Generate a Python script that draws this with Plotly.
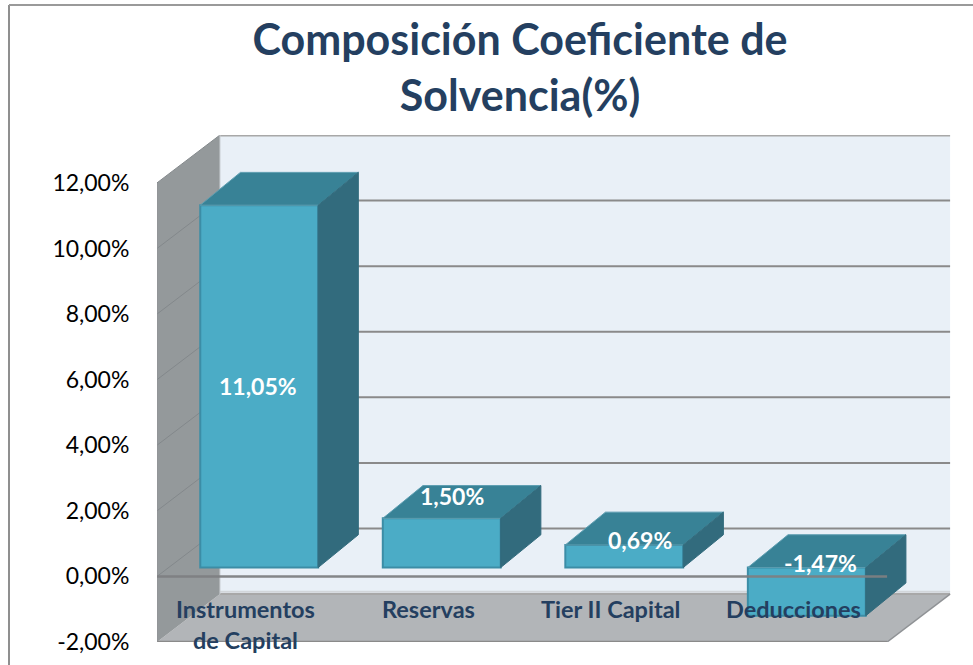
import plotly.graph_objects as go

categories = ["Instrumentos<br>de Capital", "Reservas", "Tier II Capital", "Deducciones"]
values = [11.05, 1.50, 0.69, -1.47]
value_labels = ["11,05%", "1,50%", "0,69%", "-1,47%"]
tick_values = [-2, 0, 2, 4, 6, 8, 10, 12]
tick_labels = ["-2,00%", "0,00%", "2,00%", "4,00%", "6,00%", "8,00%", "10,00%", "12,00%"]
title = "Composición Coeficiente de<br>Solvencia(%)"

FONT = "Lato"
NAVY = "#243F60"
X0, X1 = -0.5, 3.5
Y0, Y1 = -2, 12
DX, DY = 0.345, 1.46     # floor depth in axis units
BAR_W = 0.646
BAR_SX, BAR_SY = 0.06, 0.27    # bar front offset
BAR_DX, BAR_DY = 0.22, 1.0     # bar depth
# where each value label sits relative to its bar (manual placement, as in the original)
LABEL_NUDGE_X = [-0.005, 0.055, 0.088, 0.077]
LABEL_NUDGE_Y = [None, 0.67, 0.15, 0.15]

def path(pts):
    return "M " + " L ".join(f"{x},{y}" for x, y in pts) + " Z"

shapes = []
def wall(pts, fill, line=None, w=0):
    shapes.append(dict(type="path", path=path(pts), xref="x", yref="y", layer="below",
                       fillcolor=fill, line=dict(color=line or fill, width=w)))
def seg(x0, y0, x1, y1, color, w, layer="below"):
    shapes.append(dict(type="line", x0=x0, y0=y0, x1=x1, y1=y1, xref="x", yref="y",
                       layer=layer, line=dict(color=color, width=w)))

# back wall, side wall, floor
wall([(X0 + DX, Y0 + DY), (X1 + DX, Y0 + DY), (X1 + DX, Y1 + DY), (X0 + DX, Y1 + DY)], "#E9F0F7")
wall([(X0, Y0), (X1, Y0), (X1 + DX, Y0 + DY), (X0 + DX, Y0 + DY)], "#B2B5B8")
wall([(X0, Y0), (X0 + DX, Y0 + DY), (X0 + DX, Y1 + DY), (X0, Y1)], "#94999B")
seg(X0 + DX, Y0 + DY + 0.07, X1 + DX, Y0 + DY + 0.07, "#D2D6DA", 2)
for t in tick_values:
    color = "#A8A8A8" if t in (Y0, Y1) else "#8A8A8A"
    seg(X0 + DX, t + DY, X1 + DX, t + DY, color, 3 if t == Y1 else 2)
    if t != Y0:
        seg(X0, t, X0 + DX, t + DY, "#83888B", 1)
seg(X0 + DX, Y0 + DY, X0 + DX, Y1 + DY, "#C8CCD0", 1)
seg(X0, Y0, X1, Y0, "#8A8A8A", 2.5)
seg(X0, Y0, X0, Y1, "#8F9295", 1)
seg(X1, Y0, X1 + DX, Y0 + DY, "#8F9295", 1.5)

fig = go.Figure()

xs = [i + BAR_SX for i in range(len(values))]
fig.add_trace(go.Bar(
    x=xs, y=values, base=BAR_SY, width=BAR_W,
    marker=dict(color="#4BACC6", line=dict(color="#3C8DA6", width=2)),
    hoverinfo="skip", showlegend=False))

def poly(pts, color, line):
    fig.add_trace(go.Scatter(
        x=[p[0] for p in pts] + [pts[0][0]], y=[p[1] for p in pts] + [pts[0][1]],
        mode="lines", fill="toself", fillcolor=color,
        line=dict(color=line, width=1), hoverinfo="skip", showlegend=False))

for x, v in zip(xs, values):
    left, right = x - BAR_W / 2, x + BAR_W / 2
    top = BAR_SY + max(v, 0)
    bot = BAR_SY + min(v, 0)
    poly([(left, top), (right, top), (right + BAR_DX, top + BAR_DY), (left + BAR_DX, top + BAR_DY)],
         "#388296", "#5C9DB0")
    poly([(right, top), (right + BAR_DX, top + BAR_DY), (right + BAR_DX, bot + BAR_DY), (right, bot)],
         "#326B7D", "#326B7D")

# zero line in front of everything
fig.add_trace(go.Scatter(x=[X0, X1], y=[0, 0], mode="lines",
                         line=dict(color="rgba(125,128,130,0.95)", width=2.5),
                         hoverinfo="skip", showlegend=False))

annotations = []
for i, c in enumerate(categories):
    annotations.append(dict(
        x=i - 0.015, y=-0.95, xref="x", yref="y", text=c, showarrow=False, yanchor="top",
        yshift=15, font=dict(family=FONT, size=23.5, color=NAVY, weight="bold"), align="center"))
for x, v, lab, nx, ny in zip(xs, values, value_labels, LABEL_NUDGE_X, LABEL_NUDGE_Y):
    ly = v * 0.5 + BAR_SY if ny is None else BAR_SY + max(v, 0) + ny
    annotations.append(dict(
        x=x + nx, y=ly, xref="x", yref="y", text=lab, showarrow=False,
        font=dict(family=FONT, size=23, color="white", weight="bold")))

# outer frame
shapes.append(dict(type="line", xref="paper", yref="paper", x0=-148 / 794, x1=-148 / 794,
                   y0=-23 / 507, y1=130 / 507 + 1, line=dict(color="#8F8F8F", width=2), layer="below"))
shapes.append(dict(type="line", xref="paper", yref="paper", x0=-148 / 794, x1=816 / 794,
                   y0=130 / 507 + 1, y1=130 / 507 + 1, line=dict(color="#9A9A9A", width=2), layer="below"))

fig.update_layout(
    width=973, height=665, autosize=False,
    margin=dict(l=157, r=22, t=135, b=23, pad=0, autoexpand=False),
    paper_bgcolor="white", plot_bgcolor="rgba(0,0,0,0)",
    font=dict(family=FONT, color="black"),
    title=dict(text=title, x=520 / 973, y=1 - 55 / 665, xanchor="center", yanchor="middle",
               font=dict(family=FONT, size=43, color=NAVY, weight="bold")),
    xaxis=dict(range=[X0, X1 + 0.35], showgrid=False, zeroline=False, showticklabels=False,
               ticks="", showline=False, fixedrange=True, automargin=False),
    yaxis=dict(range=[Y0, Y1 + DY], showgrid=False, zeroline=False, tickvals=tick_values,
               ticktext=tick_labels, ticks="outside", ticklen=22, tickcolor="rgba(0,0,0,0)",
               automargin=False,
               tickfont=dict(family=FONT, size=23, color="black"), showline=False, fixedrange=True),
    shapes=shapes, annotations=annotations, showlegend=False, barmode="overlay",
)
fig.write_html("out.html", config=dict(displayModeBar=False),
               post_script="document.body.style.margin='0';")
